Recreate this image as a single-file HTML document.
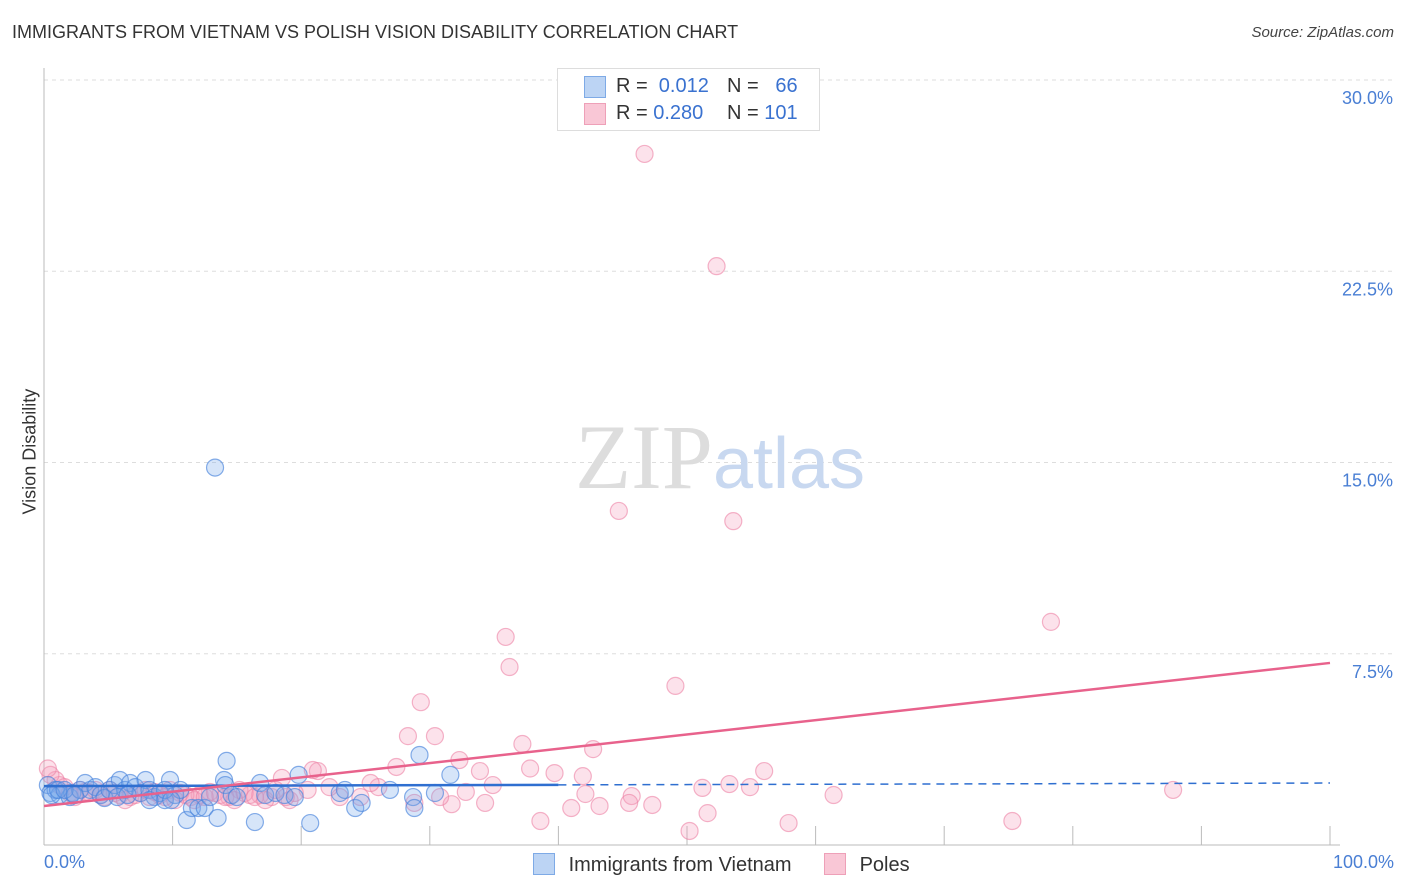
<!DOCTYPE html>
<html><head><meta charset="utf-8"><style>
body{margin:0;background:#fff;font-family:"Liberation Sans",sans-serif;}
#wrap{position:relative;width:1406px;height:892px;overflow:hidden;}
.t{position:absolute;white-space:nowrap;}
</style></head><body>
<div id="wrap">
<div class="t" style="left:12px;top:22px;font-size:18px;color:#333;">IMMIGRANTS FROM VIETNAM VS POLISH VISION DISABILITY CORRELATION CHART</div>
<div class="t" style="right:12px;top:24px;font-size:15px;color:#444;font-style:italic;">Source: ZipAtlas.com</div>
<svg id="svg" width="1406" height="892" style="position:absolute;left:0;top:0"></svg>
</div>
<script>
const yTicks=[7.5,15,22.5,30];
const yTickLabels=["7.5%","15.0%","22.5%","30.0%"];
const xTicks=[10,20,30,40,50,60,70,80,90,100];
const blueX=[0.3,0.5,0.9,1.2,2.0,2.2,2.8,3.2,3.6,4.0,4.4,4.7,5.1,5.5,5.9,6.3,6.7,7.1,7.5,7.9,8.2,8.6,9.0,9.4,9.8,10.2,10.6,11.1,11.5,12.0,12.5,12.9,13.3,13.5,14.0,14.1,14.2,14.6,15.0,16.4,16.8,17.2,18.0,18.7,19.5,19.8,20.7,23.0,23.4,24.2,24.7,26.9,28.7,28.8,29.2,30.4,31.6,0.6,1.1,1.6,2.4,5.7,6.5,8.2,9.4,9.9];
const blueY=[2.35,2.04,2.16,1.96,1.88,2.04,2.16,2.43,2.16,2.27,1.96,1.84,2.16,2.35,2.55,2.16,2.43,2.27,2.04,2.55,2.16,1.88,2.04,1.76,2.55,1.96,2.16,0.98,1.45,1.45,1.45,1.88,14.8,1.06,2.55,2.35,3.3,1.96,1.88,0.9,2.43,1.96,2.04,1.96,1.88,2.75,0.86,2.04,2.16,1.45,1.65,2.16,1.88,1.45,3.53,2.04,2.75,1.96,2.16,2.16,1.96,1.88,1.96,1.76,2.16,1.76];
const pinkX=[46.7,52.3,44.7,53.6,78.3,35.9,36.2,49.1,29.3,30.4,28.3,37.2,42.7,32.3,37.8,27.4,39.7,41.9,56.0,33.9,53.3,54.9,51.2,61.4,87.8,42.1,45.7,43.2,47.3,45.5,34.3,31.7,30.8,28.8,32.8,34.9,41.0,38.6,51.6,50.2,57.9,75.3,26.0,25.4,24.6,23.0,22.2,21.3,20.9,20.5,18.5,19.1,17.7,16.8,16.0,15.2,14.4,13.7,12.9,12.1,11.4,10.6,9.8,9.0,8.2,7.5,6.7,5.9,5.1,4.4,3.6,2.8,2.0,1.2,0.9,0.5,0.3,1.6,2.4,3.2,4.0,4.7,5.5,6.3,7.1,7.9,8.6,9.4,10.2,11.0,11.7,12.5,13.3,14.1,14.8,15.6,16.4,17.2,18.0,18.8,19.5];
const pinkY=[27.1,22.7,13.1,12.7,8.75,8.16,6.98,6.24,5.6,4.27,4.27,3.96,3.76,3.33,3.0,3.06,2.82,2.7,2.9,2.9,2.39,2.27,2.24,1.96,2.16,2.0,1.92,1.53,1.57,1.65,1.65,1.6,1.88,1.65,2.08,2.35,1.45,0.94,1.25,0.55,0.86,0.94,2.27,2.43,1.88,1.88,2.27,2.9,2.94,2.16,2.63,1.76,1.88,1.96,1.96,2.16,1.88,1.96,2.08,1.96,1.88,2.04,2.16,1.96,1.88,2.04,1.88,1.96,2.16,1.96,2.04,2.16,2.04,2.35,2.55,2.75,3.0,2.27,1.88,2.08,2.16,1.88,2.04,1.76,1.96,2.16,2.08,1.88,1.76,1.96,1.76,1.88,2.04,1.88,1.76,2.04,1.88,1.76,2.16,1.88,2.04];
const blueLine=[2.31,2.43];
const pinkLine=[1.53,7.14];
const X0=44,X1=1330,Y0=845,Y30=80;
const xs=v=>X0+(X1-X0)*v/100;
const ys=v=>Y0-(Y0-Y30)*v/30;
const svg=document.getElementById('svg');
const NS='http://www.w3.org/2000/svg';
function mk(tag,attrs,parent){const e=document.createElementNS(NS,tag);for(const k in attrs)e.setAttribute(k,attrs[k]);(parent||svg).appendChild(e);return e;}
for(let i=0;i<yTicks.length;i++){
 const g=mk('line',{x1:X0,x2:1394,y1:ys(yTicks[i]),y2:ys(yTicks[i]),stroke:'#ddd','stroke-dasharray':'4,4'});
 
 
 const t=mk('text',{x:1393,y:ys(yTicks[i])+24,'text-anchor':'end','font-size':18,fill:'#4a7fd4','font-family':'Liberation Sans'});
 t.textContent=yTickLabels[i];
 
 
}
const ax=mk('line',{x1:X0,x2:X0,y1:68,y2:Y0,stroke:'#bbb'});


const bx=mk('line',{x1:X0,x2:X1+10,y1:Y0,y2:Y0,stroke:'#bbb'});


for(const v of xTicks){
 const l=mk('line',{x1:xs(v),x2:xs(v),y1:826,y2:Y0,stroke:'#bbb'});
 
 
}
const wm=mk('text',{x:720,y:488,'text-anchor':'middle','font-size':92,'font-family':'Liberation Serif',fill:'#ddd'});
wm.innerHTML='ZIP<tspan fill="#c8d8f0" font-family="Liberation Sans" font-size="72">atlas</tspan>';


for(let i=0;i<pinkX.length;i++){
 const c=mk('circle',{cx:xs(pinkX[i]),cy:ys(pinkY[i]),r:8.5,fill:'rgba(244,160,188,0.3)',stroke:'rgba(236,130,165,0.6)','stroke-width':1.2});
 
 
}
for(let i=0;i<blueX.length;i++){
 const c=mk('circle',{cx:xs(blueX[i]),cy:ys(blueY[i]),r:8.5,fill:'rgba(120,170,235,0.3)',stroke:'rgba(70,130,220,0.65)','stroke-width':1.2});
 
 
}
const bAt=p=>blueLine[0]+(blueLine[1]-blueLine[0])*p/100;
const bl=mk('line',{x1:xs(0),y1:ys(bAt(0)),x2:xs(40),y2:ys(bAt(40)),stroke:'#2f6fd0','stroke-width':2.5});


const bd=mk('line',{x1:xs(40),y1:ys(bAt(40)),x2:xs(100),y2:ys(bAt(100)),stroke:'#2f6fd0','stroke-width':1.5,'stroke-dasharray':'8,6'});


const pl=mk('line',{x1:xs(0),y1:ys(pinkLine[0]),x2:xs(100),y2:ys(pinkLine[1]),stroke:'#e8628c','stroke-width':2.5});


</script>
<div class="t" style="left:-30px;top:444px;font-size:18px;color:#333;transform:rotate(-90deg);width:120px;text-align:center;">Vision Disability</div>
<div class="t" style="left:44px;top:852px;font-size:18px;color:#4a7fd4;">0.0%</div>
<div class="t" style="right:12px;top:852px;font-size:18px;color:#4a7fd4;">100.0%</div>
<div style="position:absolute;left:557px;top:68px;width:261px;height:61px;border:1px solid #ddd;background:#fff;font-size:20px;">
 <div style="position:absolute;left:26px;top:7px;width:20px;height:20px;background:#bcd4f4;border:1px solid #7eaae6;"></div>
 <div class="t" style="left:58px;top:6px;color:#333;">R = <span style="color:#3a72d0">&nbsp;0.012</span></div>
 <div class="t" style="left:169px;top:6px;color:#333;">N = <span style="color:#3a72d0">&nbsp;&nbsp;66</span></div>
 <div style="position:absolute;left:26px;top:34px;width:20px;height:20px;background:#f9c7d6;border:1px solid #eea0b8;"></div>
 <div class="t" style="left:58px;top:33px;color:#333;">R = <span style="color:#3a72d0">0.280</span></div>
 <div class="t" style="left:169px;top:33px;color:#333;">N = <span style="color:#3a72d0">101</span></div>
</div>
<div style="position:absolute;left:533px;top:853px;font-size:20px;color:#333;">
 <span style="display:inline-block;width:20px;height:20px;background:#bcd4f4;border:1px solid #7eaae6;vertical-align:-4px;"></span>
 <span style="margin-left:8px;">Immigrants from Vietnam</span></div>
<div style="position:absolute;left:824px;top:853px;font-size:20px;color:#333;">
 <span style="display:inline-block;width:20px;height:20px;background:#f9c7d6;border:1px solid #eea0b8;vertical-align:-4px;"></span>
 <span style="margin-left:8px;">Poles</span></div>
</body></html>
